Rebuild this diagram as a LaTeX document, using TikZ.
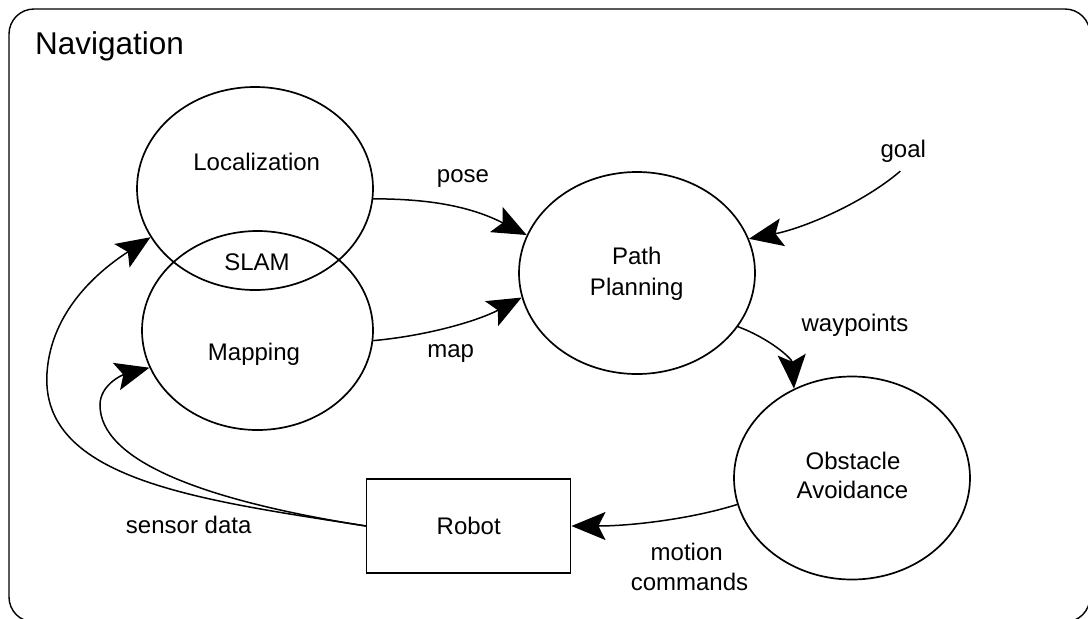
\documentclass[tikz,border=0pt]{standalone}
\usepackage{fontspec}
\setmainfont{Liberation Sans}
\usetikzlibrary{shapes.geometric,arrows.meta}
\begin{document}
\begin{tikzpicture}[x=1pt,y=-1pt,
  ell/.style={draw,ellipse,line width=1.7pt,inner sep=0pt,minimum width=236pt,minimum height=203pt},
  lbl/.style={anchor=base,inner sep=0pt,font=\fontsize{24}{30}\selectfont},
  arr/.style={line width=1.5pt,-{Stealth[length=34pt,width=28pt,inset=7pt]}}]
\useasboundingbox (0,0) rectangle (1088,619);
% frame
\node[draw,line width=1.4pt,rounded corners=25pt,minimum width=1081pt,minimum height=613pt,inner sep=0pt] (frame) at (549.5,315.5) {};
\node[anchor=base west,inner sep=0pt,font=\fontsize{31.5}{36}\selectfont] (title) at (35,54.3) {Navigation};
% ellipses
\node[ell] (loc) at (255,188.5) {};
\node[ell,minimum width=231pt,minimum height=199pt] (map) at (257.5,330.5) {};
\node[ell,minimum height=202pt] (plan) at (637,273) {};
\node[ell] (obs) at (852,478) {};
\node[draw,line width=1.5pt,minimum width=204pt,minimum height=94pt,inner sep=0pt,font=\fontsize{24}{30}\selectfont] (robot) at (468.7,526) {Robot};
% texts
\node[lbl] (locT) at (256.7,170) {Localization};
\node[lbl] (slamT) at (257,270.7) {SLAM};
\node[lbl] (mapT) at (254,360.7) {Mapping};
\node[lbl] (planT1) at (636.7,264) {Path};
\node[lbl] (planT2) at (636.7,295) {Planning};
\node[lbl] (obsT1) at (853,469.3) {Obstacle};
\node[lbl] (obsT2) at (852.5,498.7) {Avoidance};
\node[lbl] (poseT) at (463,182.7) {pose};
\node[lbl] (mapL) at (450.7,357.5) {map};
\node[lbl] (goal) at (903.3,157) {goal};
\node[lbl] (wayT) at (855,331) {waypoints};
\node[lbl] (motT1) at (686.7,560.7) {motion};
\node[lbl] (motT2) at (689.5,590) {commands};
\node[lbl] (sensT) at (188.7,533.3) {sensor data};
% connectors
\draw[arr] (loc.-5) .. controls +(55,0) and +(-57,-29) .. (plan.161);
\draw[arr] (map.-5) .. controls +(55,-5) and +(-43,23) .. (plan.192);
\draw[arr] ([xshift=-3pt,yshift=-9pt]goal.south) .. controls +(-40,34) and +(52,-10) .. (plan.17);
\draw[arr] (plan.-28) .. controls +(32,12) and +(-2,-30) .. (obs.123);
\draw[arr] (obs.193) .. controls +(-48,15) and +(58,0) .. (robot.east);
\draw[arr] (robot.west) .. controls (200,500) and (40,480) .. (47,373) .. controls (51,310) and (100,270) .. (loc.205);
\draw[arr] (robot.west) .. controls (200,500) and (100,460) .. (100,405) .. controls (100,385) and (122,375) .. (map.199);
\end{tikzpicture}
\end{document}
